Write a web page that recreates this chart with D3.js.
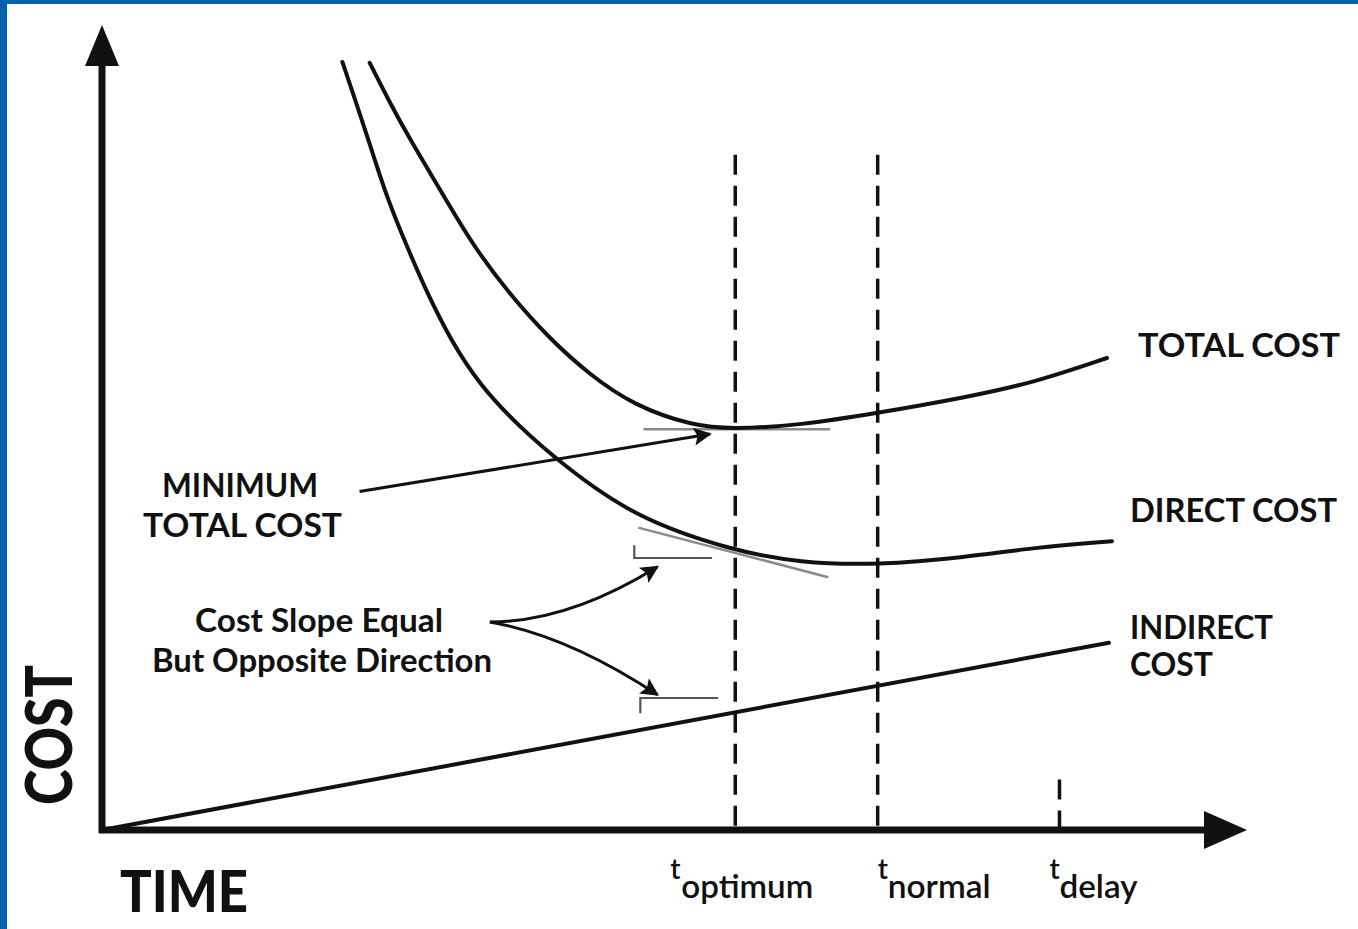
<!DOCTYPE html>
<html>
<head>
<meta charset="utf-8">
<script src="https://cdn.jsdelivr.net/npm/d3@7"></script>
<style>
  html, body { margin: 0; padding: 0; background: #fff; }
  svg { display: block; }
  text { font-family: "Lato", "Open Sans", sans-serif; fill: #111; }
</style>
</head>
<body>
<div id="chart"></div>
<script>
// time (0-10) vs cost (0-10)
const directCost = [
  [2.38, 9.60], [2.53, 9.04], [2.67, 8.50], [2.82, 7.91], [3.02, 7.29],
  [3.22, 6.71], [3.45, 6.13], [3.74, 5.56], [4.14, 5.03], [4.54, 4.59],
  [5.26, 3.91], [6.25, 3.49], [6.91, 3.34], [7.67, 3.31], [8.56, 3.41],
  [9.22, 3.53], [10.0, 3.61]
];
const totalCost = [
  [2.65, 9.59], [2.85, 9.09], [3.05, 8.63], [3.35, 8.00], [3.67, 7.31],
  [4.04, 6.69], [4.44, 6.13], [4.83, 5.69], [5.26, 5.31], [5.85, 5.05],
  [6.25, 5.01], [6.91, 5.06], [7.67, 5.21], [8.56, 5.41], [9.22, 5.59],
  [9.95, 5.90]
];
const indirectCost = [[0, 0], [9.97, 2.34]];
const markerNames = ["optimum", "normal", "delay"];
const markerTimes = [6.27, 7.68, 9.48];
const markerTops = [8.44, 8.44, 0.63];

const W = 1358, H = 929;
const x = d3.scaleLinear().domain([0, 10]).range([102, 1112]);
const y = d3.scaleLinear().domain([0, 10]).range([830, 30]);

const svg = d3.select("#chart").append("svg")
  .attr("width", W).attr("height", H);

// blue frame
svg.append("rect").attr("x", 0).attr("y", 0).attr("width", W).attr("height", 4).attr("fill", "#0062ab");
svg.append("rect").attr("x", 0).attr("y", 0).attr("width", 7).attr("height", H).attr("fill", "#0062ab");

const defs = svg.append("defs");
defs.append("marker")
  .attr("id", "head")
  .attr("viewBox", "0 0 10 10")
  .attr("refX", 9).attr("refY", 5)
  .attr("markerWidth", 7).attr("markerHeight", 6)
  .attr("markerUnits", "strokeWidth")
  .attr("orient", "auto")
  .append("path").attr("d", "M0,0 L10,5 L0,10 L2,5 Z").attr("fill", "#111");

// --- axes with arrow heads ---
const x0 = x(0), y0 = y(0);
svg.append("line").attr("x1", x0).attr("y1", y0 + 3).attr("x2", x0).attr("y2", 60)
  .attr("stroke", "#111").attr("stroke-width", 7);
svg.append("path").attr("d", `M${x0},25 L${x0 + 17},66 L${x0 - 17},66 Z`).attr("fill", "#111");
svg.append("line").attr("x1", x0 - 3).attr("y1", y0).attr("x2", 1210).attr("y2", y0)
  .attr("stroke", "#111").attr("stroke-width", 7);
svg.append("path").attr("d", `M1247,${y0} L1204,${y0 - 19} L1204,${y0 + 19} Z`).attr("fill", "#111");

// --- dashed time markers ---
svg.selectAll(".marker")
  .data(markerTimes)
  .enter().append("line")
  .attr("class", "marker")
  .attr("x1", d => x(d)).attr("x2", d => x(d))
  .attr("y1", (d, i) => y(markerTops[i])).attr("y2", y0)
  .attr("stroke", "#111").attr("stroke-width", 3.5)
  .attr("stroke-dasharray", "20,11");

// --- tangent lines (grey) ---
svg.append("line")
  .attr("x1", x(5.36)).attr("y1", y(5.01)).attr("x2", x(7.21)).attr("y2", y(5.01))
  .attr("stroke", "#8a8a8a").attr("stroke-width", 2.5);
svg.append("line")
  .attr("x1", x(5.31)).attr("y1", y(3.78)).attr("x2", x(7.19)).attr("y2", y(3.16))
  .attr("stroke", "#8a8a8a").attr("stroke-width", 2.5);

// slope brackets
svg.append("path")
  .attr("d", `M${x(5.27)},${y(3.56)} L${x(5.27)},${y(3.40)} L${x(6.04)},${y(3.40)}`)
  .attr("fill", "none").attr("stroke", "#555").attr("stroke-width", 2.2);
svg.append("path")
  .attr("d", `M${x(5.33)},${y(1.46)} L${x(5.33)},${y(1.65)} L${x(6.10)},${y(1.65)}`)
  .attr("fill", "none").attr("stroke", "#555").attr("stroke-width", 2.2);

// --- cost curves ---
const line = d3.line()
  .x(d => x(d[0]))
  .y(d => y(d[1]))
  .curve(d3.curveBasis);

[directCost, totalCost, indirectCost].forEach(series => {
  svg.append("path")
    .datum(series)
    .attr("d", line)
    .attr("fill", "none")
    .attr("stroke", "#111")
    .attr("stroke-width", 4)
    .attr("stroke-linecap", "round");
});

// --- annotation arrows ---
svg.append("line")
  .attr("x1", x(2.55)).attr("y1", y(4.23)).attr("x2", x(6.02)).attr("y2", y(4.95))
  .attr("stroke", "#111").attr("stroke-width", 3)
  .attr("marker-end", "url(#head)");
svg.append("path")
  .attr("d", `M${x(3.84)},${y(2.60)} Q${x(4.62)},${y(2.60)} ${x(5.50)},${y(3.29)}`)
  .attr("fill", "none").attr("stroke", "#111").attr("stroke-width", 3)
  .attr("marker-end", "url(#head)");
svg.append("path")
  .attr("d", `M${x(3.84)},${y(2.60)} Q${x(4.61)},${y(2.43)} ${x(5.50)},${y(1.69)}`)
  .attr("fill", "none").attr("stroke", "#111").attr("stroke-width", 3)
  .attr("marker-end", "url(#head)");

// --- labels ---
const labels = [
  { t: "TOTAL COST", x: 1138, y: 357, len: 202 },
  { t: "DIRECT COST", x: 1130, y: 522, len: 207 },
  { t: "INDIRECT", x: 1130, y: 639, len: 143 },
  { t: "COST", x: 1130, y: 676, len: 83 },
  { t: "MINIMUM", x: 162, y: 497, len: 156 },
  { t: "TOTAL COST", x: 143, y: 537, len: 199 },
  { t: "Cost Slope Equal", x: 195, y: 632, len: 248 },
  { t: "But Opposite Direction", x: 152, y: 672, len: 340 }
];
svg.selectAll(".lbl")
  .data(labels)
  .enter().append("text")
  .attr("class", "lbl")
  .attr("x", d => d.x).attr("y", d => d.y)
  .attr("font-size", 33).attr("font-weight", 700)
  .attr("textLength", d => d.len).attr("lengthAdjust", "spacingAndGlyphs")
  .text(d => d.t);

svg.append("text")
  .attr("x", 120).attr("y", 912)
  .attr("font-size", 58).attr("font-weight", 900)
  .attr("textLength", 128).attr("lengthAdjust", "spacingAndGlyphs")
  .text("TIME");
svg.append("text")
  .attr("transform", "translate(72,805) rotate(-90)")
  .attr("font-size", 64).attr("font-weight", 900)
  .attr("textLength", 140).attr("lengthAdjust", "spacingAndGlyphs")
  .text("COST");

// t labels under the markers
const subLens = [132, 103, 78];
const tl = svg.selectAll(".tlab")
  .data(markerTimes)
  .enter().append("g")
  .attr("class", "tlab")
  .attr("transform", d => `translate(${x(d)},0)`);
tl.append("text")
  .attr("x", (d, i) => [-65, 0, -10][i])
  .attr("y", 879)
  .attr("font-size", 28).attr("font-weight", 600)
  .text("t");
tl.append("text")
  .attr("x", (d, i) => [-54, 10, 0][i])
  .attr("y", 898)
  .attr("font-size", 32).attr("font-weight", 600)
  .attr("textLength", (d, i) => subLens[i]).attr("lengthAdjust", "spacingAndGlyphs")
  .text((d, i) => markerNames[i]);
</script>
</body>
</html>
